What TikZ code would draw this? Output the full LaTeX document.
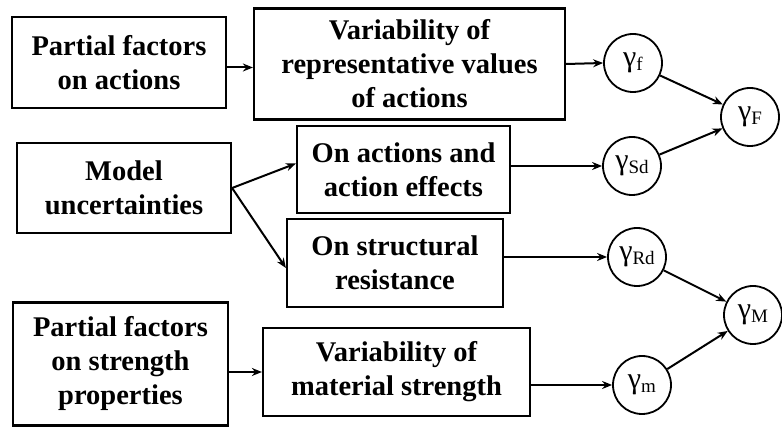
\documentclass[tikz,border=0pt]{standalone}
\usepackage{fontspec}
\setmainfont{Liberation Serif}
\usepackage{tikz}
\usetikzlibrary{arrows.meta}
\newcommand{\gfac}[1]{γ\raisebox{-0.28ex}{\fontsize{19}{20}\selectfont #1}}

\begin{document}
\begin{tikzpicture}[
    x=1pt, y=-1pt,
    box/.style={draw, line width=2.2pt, align=center, inner sep=2pt,
      font=\fontsize{28.5}{34}\selectfont\bfseries},
    fac/.style={draw, circle, line width=1.8pt, minimum size=58pt, inner sep=0pt,
      font=\fontsize{30}{32}\selectfont},
    arrow/.style={-{Stealth[length=10pt,width=8pt]}, line width=2pt}
  ]
  \useasboundingbox (0,0) rectangle (782,427);

  % left column
  \node[box, minimum width=214pt, minimum height=91pt] (actions) at (119,62.5)
    {Partial factors\\on actions};
  \node[box, minimum width=214pt, minimum height=90pt] (model) at (124,188)
    {Model\\uncertainties};
  \node[box, minimum width=215pt, minimum height=123pt] (strength) at (120.5,364)
    {Partial factors\\on strength\\properties};

  % middle column
  \node[box, minimum width=311pt, minimum height=111pt] (varact) at (409.5,64)
    {Variability of\\representative values\\of actions};
  \node[box, minimum width=213pt, minimum height=87pt] (effS) at (403.5,169.5)
    {On actions and\\action effects};
  \node[box, minimum width=216pt, minimum height=88pt] (resist) at (395,263)
    {On structural\\resistance};
  \node[box, minimum width=267pt, minimum height=88pt] (varmat) at (396.5,372)
    {Variability of\\material strength};

  % partial factors
  \node[fac] (gf)  at (633,63)  {\gfac{f}};
  \node[fac] (gSd) at (632,166) {\gfac{Sd}};
  \node[fac] (gRd) at (637,257) {\gfac{Rd}};
  \node[fac] (gm)  at (642,385) {\gfac{m}};
  \node[fac] (gF)  at (750,117) {\gfac{F}};
  \node[fac] (gM)  at (753,315) {\gfac{M}};

  \draw[arrow] ([yshift=-5pt]actions.east) -- ([yshift=-5pt]actions.east -| varact.west);
  \draw[arrow] (model.east) -- ([yshift=6pt]effS.west);
  \draw[arrow] (model.east) -- ([yshift=-5pt]resist.west);
  \draw[arrow] (strength.east |- varmat) -- (varmat.west);

  \draw[arrow] (varact.east) -- (gf.west);
  \draw[arrow] (gSd -| effS.east) -- (gSd.west);
  \draw[arrow] (gRd -| resist.east) -- (gRd.west);
  \draw[arrow] (gm -| varmat.east) -- (gm.west);

  \draw[arrow] (gf) -- (gF);
  \draw[arrow] (gSd) -- (gF);
  \draw[arrow] (gRd) -- (gM);
  \draw[arrow] (gm) -- (gM);
\end{tikzpicture}
\end{document}
